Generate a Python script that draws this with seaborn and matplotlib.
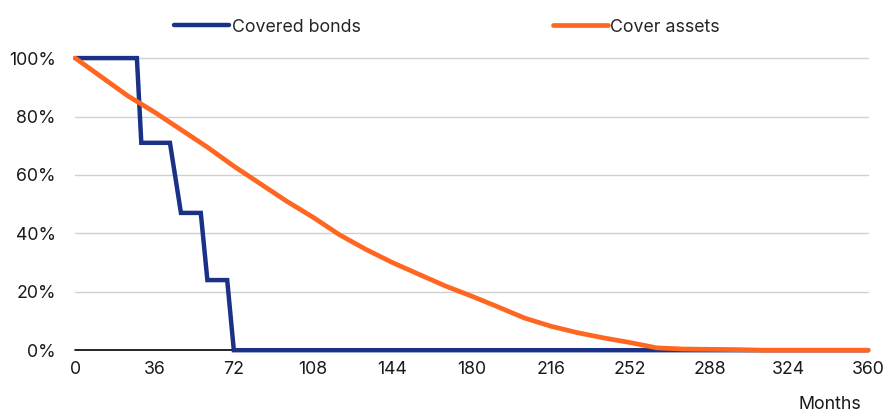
import pandas as pd
import numpy as np
import seaborn as sns
import matplotlib.pyplot as plt
from matplotlib.ticker import PercentFormatter

# =====================================================
# DATA
# =====================================================

bond_months = [0, 28, 30, 43, 48, 57, 60, 69, 72, 360]
bond_share = [100, 100, 71, 71, 47, 47, 24, 24, 0, 0]

asset_months = [0, 12, 24, 36, 48, 60, 72, 84, 96, 108, 120, 132, 144, 156,
                168, 180, 192, 204, 216, 228, 240, 252, 264, 276, 288, 300,
                312, 324, 336, 348, 360]
asset_share = [100, 93.5, 87, 81.5, 75.5, 69.5, 63, 57, 51, 45.5, 39.5, 34.5,
               30, 26, 22, 18.5, 14.8, 11, 8.2, 6, 4.2, 2.6, 0.8, 0.4, 0.3,
               0.2, 0, 0, 0, 0, 0]

x_ticks = [0, 36, 72, 108, 144, 180, 216, 252, 288, 324, 360]
y_ticks = [0, 20, 40, 60, 80, 100]

blue = "#1b3087"
orange = "#ff6620"

bonds = pd.DataFrame({"month": bond_months, "share": bond_share})
assets = pd.DataFrame({"month": asset_months, "share": asset_share})

# =====================================================
# PLOT
# =====================================================

sns.set_style("white")
plt.rcParams["font.family"] = ["Inter", "DejaVu Sans"]

fs = 12.8

fig = plt.figure(figsize=(8.85, 4.12), dpi=100)
ax = fig.add_axes([0.085, 0.15, 0.896, 0.709])

for y in y_ticks[1:]:
    ax.axhline(y, color="#d0d0d0", linewidth=1, zorder=0)
ax.axhline(0, color="black", linewidth=1.2, zorder=1)

sns.lineplot(
    data=bonds, x="month", y="share", ax=ax,
    color=blue, linewidth=3.2, label="Covered bonds",
    solid_capstyle="round", solid_joinstyle="miter", zorder=3
)
sns.lineplot(
    data=assets, x="month", y="share", ax=ax,
    color=orange, linewidth=3.4, label="Cover assets",
    solid_capstyle="round", zorder=4
)

for line in ax.get_lines():
    line.set_clip_on(False)

ax.set_xlim(0, 360)
ax.set_ylim(0, 100)
ax.set_xticks(x_ticks)
ax.set_yticks(y_ticks)
ax.yaxis.set_major_formatter(PercentFormatter(decimals=0))
ax.tick_params(axis="both", length=0, labelsize=fs, colors="#1a1a1a")
ax.tick_params(axis="x", pad=8)
ax.tick_params(axis="y", pad=14)
ax.set_xlabel("")
ax.set_ylabel("")
sns.despine(ax=ax, left=True, bottom=True)

handles, labels = ax.get_legend_handles_labels()
ax.get_legend().remove()
fig.legend(
    handles, labels, loc="center", bbox_to_anchor=(0.505, 0.934),
    ncol=2, frameon=False, fontsize=fs, handlelength=3.1,
    handletextpad=0.15, columnspacing=10.8
)

fig.text(0.938, 0.018, "Months", ha="center", va="center",
         fontsize=fs, color="#1a1a1a")

plt.savefig("out.png", dpi=100)
